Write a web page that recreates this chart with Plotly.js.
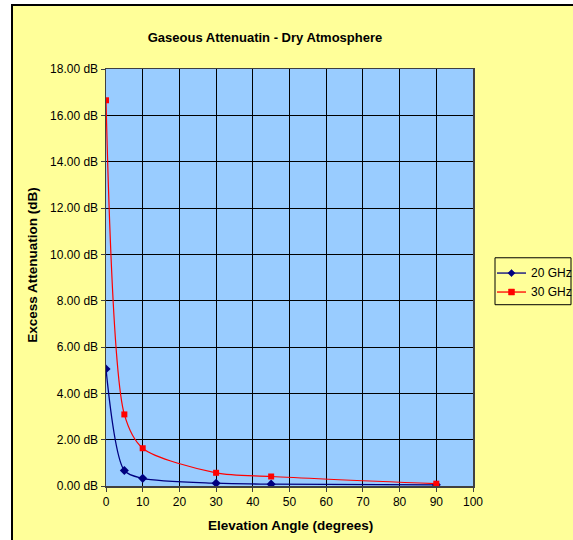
<!DOCTYPE html>
<html>
<head>
<meta charset="utf-8">
<script src="https://cdn.plot.ly/plotly-3.0.1.min.js"></script>
<style>
html,body{margin:0;padding:0;background:#ffffff;width:573px;height:540px;overflow:hidden;}
#chart{position:absolute;left:11px;top:4px;width:562px;height:536px;border-left:2px solid #000;border-top:2px solid #000;box-sizing:border-box;}
</style>
</head>
<body>
<div id="chart"></div>
<script>
var elevation = [0, 5, 10, 30, 45, 90];
var ghz20 = [5.05, 0.67, 0.33, 0.12, 0.08, 0.05];
var ghz30 = [16.65, 3.09, 1.63, 0.57, 0.41, 0.10];
var seriesNames = ["20 GHz", "30 GHz"];
var seriesColors = ["#000080", "#FF0000"];
var xTicks = [0,10,20,30,40,50,60,70,80,90,100];
var yTicks = [0,2,4,6,8,10,12,14,16,18];

var f = "Arial, 'Liberation Sans', sans-serif";
var traces = [
  {x: elevation, y: ghz20, name: seriesNames[0], type: 'scatter', mode: 'lines+markers',
   line: {color: seriesColors[0], width: 1.3, shape: 'spline', smoothing: 0.8},
   marker: {symbol: 'diamond', size: 7, color: seriesColors[0]}},
  {x: elevation, y: ghz30, name: seriesNames[1], type: 'scatter', mode: 'lines+markers',
   line: {color: seriesColors[1], width: 1.2, shape: 'spline', smoothing: 0.8},
   marker: {symbol: 'square', size: 6, color: seriesColors[1]}}
];

// plot area geometry inside the div (pixels) for placing the legend box
var PL = 93, PW = 367, PB = 480.5, PH = 417.5;
function px(x){ return (x - PL) / PW; }
function py(y){ return (PB - y) / PH; }

var shapes = [
  {type: 'rect', xref: 'paper', yref: 'paper', x0: px(482), x1: px(558), y0: py(299), y1: py(252),
   line: {color: '#000', width: 1}, fillcolor: '#FFFF99', layer: 'above'}
];
var annotations = [
  {text: '<b>Elevation Angle (degrees)</b>', xref: 'paper', yref: 'paper', x: 0.503, y: -0.094,
   xanchor: 'center', yanchor: 'middle', showarrow: false, font: {family: f, size: 13.5}},
  {text: '<b>Excess Attenuation (dB)</b>', xref: 'paper', yref: 'paper', x: -0.199, y: 0.5305,
   xanchor: 'center', yanchor: 'middle', showarrow: false, textangle: -90, font: {family: f, size: 13.5}}
];
var itemY = [267.3, 286.3];
seriesNames.forEach(function(name, i){
  var yy = itemY[i];
  shapes.push({type: 'line', xref: 'paper', yref: 'paper', x0: px(484), x1: px(513), y0: py(yy), y1: py(yy),
               line: {color: seriesColors[i], width: 1.3}, layer: 'above'});
  var cx = 498.5;
  var path;
  if (i === 0) {
    var h = 3.6;
    path = 'M' + px(cx) + ',' + py(yy - h) + ' L' + px(cx + h) + ',' + py(yy) + ' L' + px(cx) + ',' + py(yy + h) +
           ' L' + px(cx - h) + ',' + py(yy) + ' Z';
  } else {
    var s = 3;
    path = 'M' + px(cx - s) + ',' + py(yy - s) + ' L' + px(cx + s) + ',' + py(yy - s) + ' L' + px(cx + s) + ',' + py(yy + s) +
           ' L' + px(cx - s) + ',' + py(yy + s) + ' Z';
  }
  shapes.push({type: 'path', xref: 'paper', yref: 'paper', path: path,
               fillcolor: seriesColors[i], line: {color: seriesColors[i], width: 0.5}, layer: 'above'});
  annotations.push({text: name, xref: 'paper', yref: 'paper', x: px(516), y: py(yy),
                    xanchor: 'left', yanchor: 'middle', showarrow: false, font: {family: f, size: 12, color: '#000'}});
});

var layout = {
  width: 560, height: 534,
  paper_bgcolor: '#FFFF99', plot_bgcolor: '#99CCFF',
  margin: {l: 93, r: 100, t: 63, b: 54, pad: 0, autoexpand: false},
  font: {family: f, size: 12, color: '#000'},
  title: {text: '<b>Gaseous Attenuatin - Dry Atmosphere</b>', font: {family: f, size: 13, color: '#000'},
          xref: 'container', x: 0.45, xanchor: 'center', yref: 'container', y: 0.942, yanchor: 'middle'},
  xaxis: {range: [0, 100], tickvals: xTicks, ticktext: xTicks.map(String), automargin: false,
          showgrid: true, gridcolor: '#000', gridwidth: 1,
          showline: true, linecolor: '#404040', linewidth: 1.5, mirror: true,
          ticks: 'outside', ticklen: 4, tickcolor: '#404040', zeroline: false,
          tickfont: {family: f, size: 12}},
  yaxis: {range: [0, 18], tickvals: yTicks, ticktext: yTicks.map(function(v){return v.toFixed(2)+' dB';}), automargin: false,
          showgrid: true, gridcolor: '#000', gridwidth: 1,
          showline: true, linecolor: '#404040', linewidth: 1.5, mirror: true,
          ticks: 'outside', ticklen: 4, tickcolor: '#404040', zeroline: false,
          tickfont: {family: f, size: 12}},
  shapes: shapes,
  annotations: annotations,
  showlegend: false
};
Plotly.newPlot('chart', traces, layout, {displayModeBar: false, staticPlot: true});
</script>
</body>
</html>
